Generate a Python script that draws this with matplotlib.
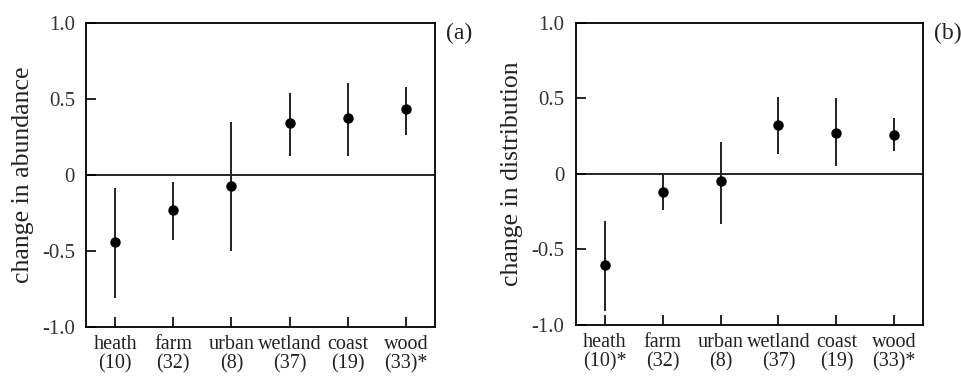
import matplotlib.pyplot as plt

plt.rcParams['font.family'] = ['Liberation Serif', 'DejaVu Serif']

habitats = ['heath', 'farm', 'urban', 'wetland', 'coast', 'wood']
labels_a = ['heath\n(10)', 'farm\n(32)', 'urban\n(8)', 'wetland\n(37)', 'coast\n(19)', 'wood\n(33)*']
labels_b = ['heath\n(10)*', 'farm\n(32)', 'urban\n(8)', 'wetland\n(37)', 'coast\n(19)', 'wood\n(33)*']

# panel (a): change in abundance
abund = [-0.44, -0.23, -0.075, 0.34, 0.37, 0.43]
abund_lo = [-0.81, -0.43, -0.50, 0.125, 0.125, 0.263]
abund_hi = [-0.088, -0.05, 0.35, 0.54, 0.605, 0.577]

# panel (b): change in distribution
distr = [-0.60, -0.12, -0.05, 0.32, 0.27, 0.26]
distr_lo = [-0.91, -0.24, -0.33, 0.13, 0.05, 0.15]
distr_hi = [-0.31, 0.0, 0.21, 0.51, 0.50, 0.37]

yticks = [-1.0, -0.5, 0, 0.5, 1.0]
ytick_labels = ['-1.0', '-0.5', '0', '0.5', '1.0']

fig = plt.figure(figsize=(9.61, 3.76), dpi=100)
ax_a = fig.add_axes([0.0895, 0.131, 0.3632, 0.8086])
ax_b = fig.add_axes([0.599, 0.1356, 0.3618, 0.804])

panels = [
    (ax_a, abund, abund_lo, abund_hi, labels_a, 'change in abundance', '(a)'),
    (ax_b, distr, distr_lo, distr_hi, labels_b, 'change in distribution', '(b)'),
]

TXT = '#222222'
for ax, vals, lo, hi, xlabels, ylabel, tag in panels:
    x = range(1, len(habitats) + 1)
    ax.axhline(0, color='black', lw=1.2, zorder=1)
    ax.vlines(x, lo, hi, color='#222222', lw=1.4, zorder=2)
    ax.plot(x, vals, 'o', color='black', ms=6.5, zorder=3)
    ax.set_xlim(0.5, 6.5)
    ax.set_ylim(-1.0, 1.0)
    ax.set_xticks(list(x))
    ax.set_xticklabels(xlabels, fontsize=14.5, color=TXT, linespacing=0.98)
    ax.set_yticks(yticks)
    ax.set_yticklabels(ytick_labels, fontsize=15, color='#333333')
    ax.tick_params(axis='both', direction='in', length=7, width=1.2)
    ax.tick_params(axis='x', pad=6)
    ax.tick_params(axis='y', pad=8)
    for s in ax.spines.values():
        s.set_linewidth(1.3)
    ax.set_ylabel(ylabel, fontsize=18.5, color=TXT, labelpad=6)
    ax.text(1.03, 0.965, tag, transform=ax.transAxes, fontsize=17,
            color=TXT, ha='left', va='center')

fig.savefig('out.png', dpi=100)
